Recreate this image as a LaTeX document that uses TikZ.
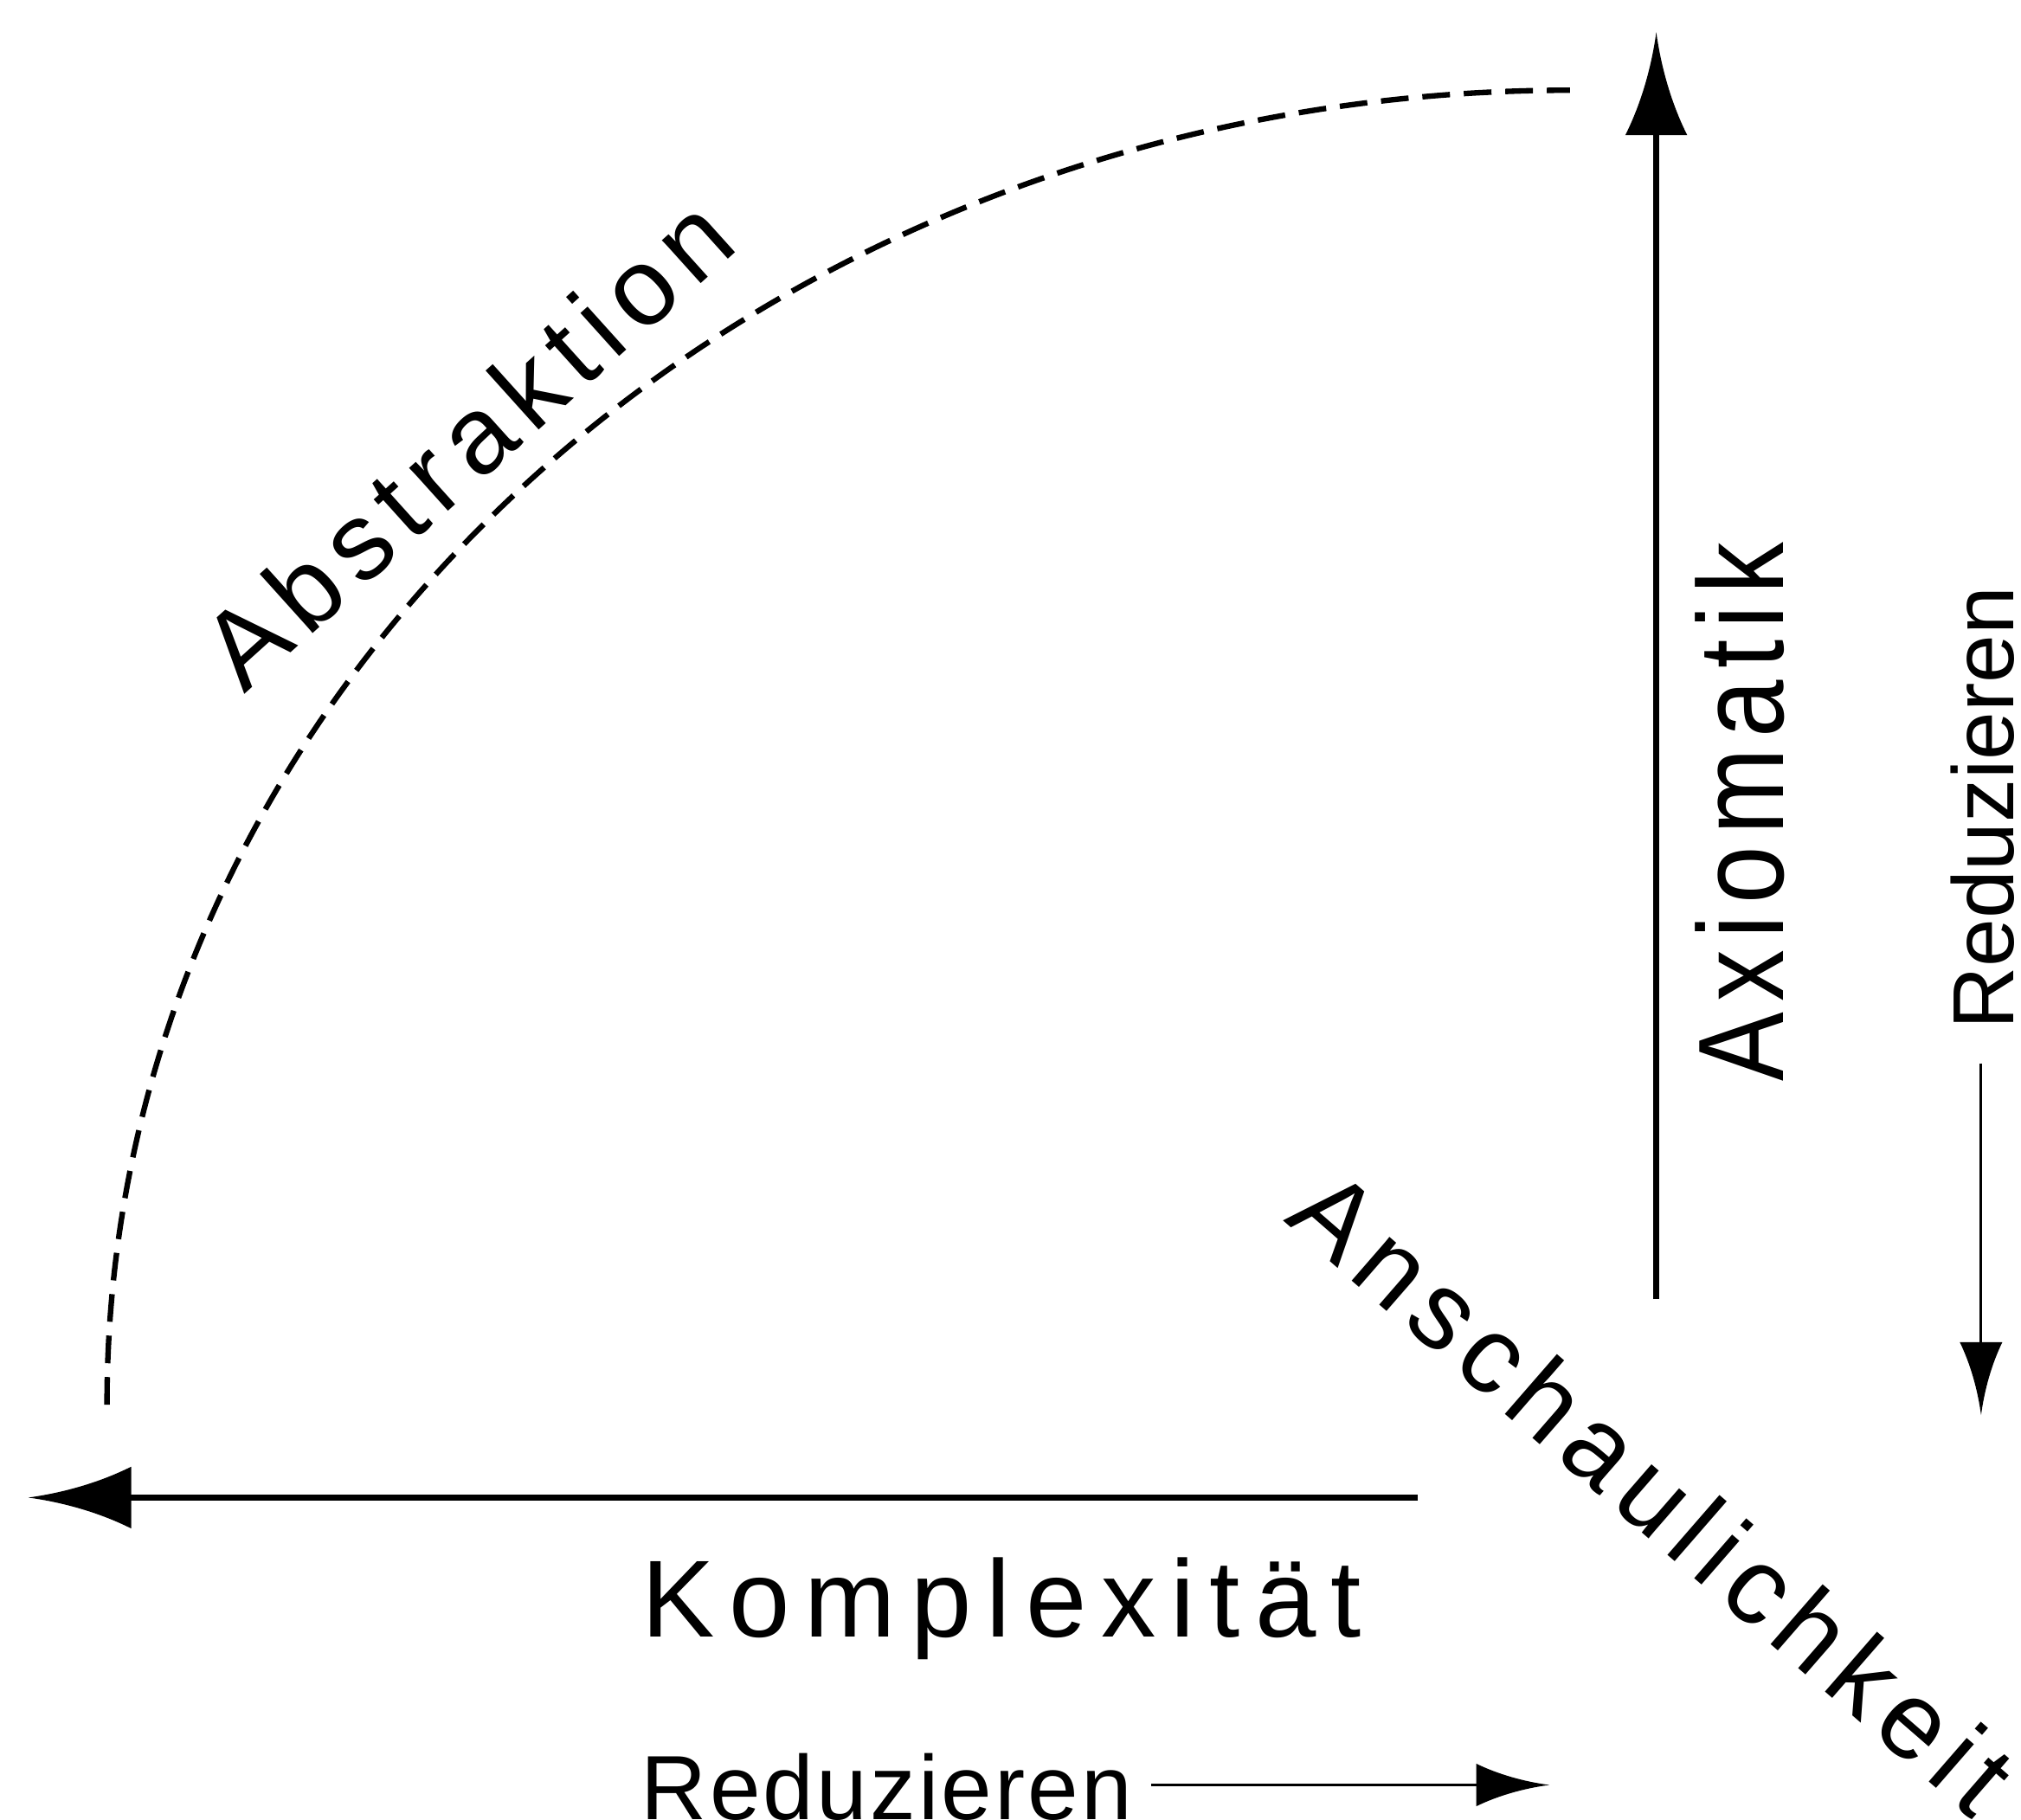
\documentclass[tikz,border=0pt]{standalone}
\usepackage{fontspec}
\setmainfont{Liberation Sans}
\usetikzlibrary{arrows.meta,positioning}
\pgfdeclarearrow{
  name=Flare,
  parameters={\the\pgfarrowlength,\the\pgfarrowwidth},
  setup code={
    \pgfarrowssettipend{0pt}
    \pgfarrowssetlineend{-.5\pgfarrowlength}
    \pgfarrowssetbackend{-\pgfarrowlength}
    \pgfarrowssavethe\pgfarrowlength
    \pgfarrowssavethe\pgfarrowwidth},
  drawing code={
    \pgfpathmoveto{\pgfqpoint{0pt}{0pt}}
    \pgfpathcurveto{\pgfqpoint{-.35\pgfarrowlength}{.08\pgfarrowwidth}}
      {\pgfqpoint{-.7\pgfarrowlength}{.25\pgfarrowwidth}}
      {\pgfqpoint{-\pgfarrowlength}{.5\pgfarrowwidth}}
    \pgfpathlineto{\pgfqpoint{-\pgfarrowlength}{-.5\pgfarrowwidth}}
    \pgfpathcurveto{\pgfqpoint{-.7\pgfarrowlength}{-.25\pgfarrowwidth}}
      {\pgfqpoint{-.35\pgfarrowlength}{-.08\pgfarrowwidth}}
      {\pgfqpoint{0pt}{0pt}}
    \pgfpathclose
    \pgfusepathqfill},
  defaults={length=10pt,width=6pt}}
\newcommand{\labelfont}[2]{\fontsize{#1}{#1}\selectfont\addfontfeature{LetterSpace=#2}}
\tikzset{axis/.style={-{Flare[length=33.8pt,width=20.3pt]},line width=2.2pt},
  redarrow/.style={-{Flare[length=24pt,width=14pt]},line width=.85pt},
  curve/.style={line width=1.8pt,dash pattern=on 3.2mm off 1.6mm},
  biglabel/.style={inner sep=0pt},
  redlabel/.style={inner sep=0pt}}
\begin{document}
\begin{tikzpicture}[x=0.14892mm,y=-0.14892mm]
\useasboundingbox (0,0) rectangle (1568,1412);
% axes
\coordinate (axbot) at (1285,1008);
\coordinate (axtop) at (1285,25);
\coordinate (kxright) at (1100,1162);
\coordinate (kxleft) at (22,1162);
\draw[axis] (axbot) -- (axtop);
\draw[axis] (kxright) -- (kxleft);
% abstraction curve
\draw[curve] (83,1090) arc[start angle=180,end angle=270,x radius=1135,y radius=1020];
% labels
\node[biglabel,rotate=90,font=\labelfont{40}{11}] (axiom) at (1350,630) {\scalebox{0.85}[1]{Axiomatik}};
\node[biglabel,anchor=base,font=\labelfont{36}{13.5}] (kompl) at (777,1270) {Komplexität};
\node[biglabel,rotate=42,font=\labelfont{36}{11}] (abstr) at (362,343) {Abstraktion};
\node[biglabel,rotate=-41,font=\labelfont{36}{10}] (ansch) at (1283,1157) {Anschaulichkeit};
% reducing
\node[redlabel,anchor=base west,font=\labelfont{30}{3}] (redbot) at (497,1412) {Reduzieren};
\node[redlabel,rotate=90,font=\labelfont{28.5}{0}] (redright) at (1538,627) {Reduzieren};
\coordinate (rbtail) at (893,1385);
\coordinate (rbtip) at (1202,1385);
\coordinate (rrtail) at (1537,825);
\coordinate (rrtip) at (1537,1098);
\draw[redarrow] (rbtail) -- (rbtip);
\draw[redarrow] (rrtail) -- (rrtip);
\end{tikzpicture}
\end{document}
